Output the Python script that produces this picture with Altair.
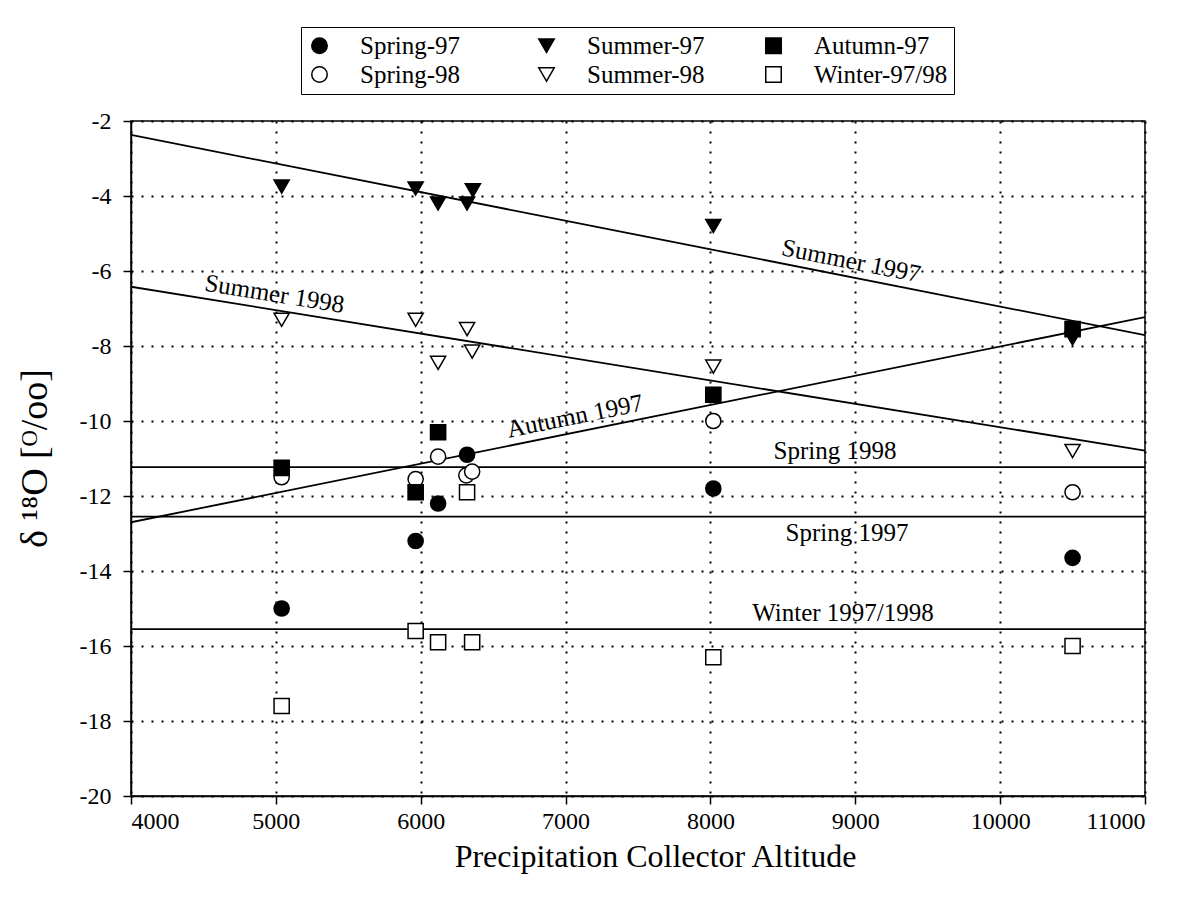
import altair as alt
import pandas as pd

# ---------------- data ----------------
# legend order is column-major in Vega: col1 = Spring, col2 = Summer, col3 = Autumn/Winter
series_order = ["Spring-97", "Spring-98", "Summer-97", "Summer-98", "Autumn-97", "Winter-97/98"]
series_shapes = ["circle", "circle", "triangle-down", "triangle-down", "square", "square"]
series_fills = ["black", "white", "black", "white", "black", "white"]
series_strokes = ["black", "black", "black", "black", "black", "black"]

spring97_x = [5040, 5965, 6120, 6320, 8020, 10500]
spring97_y = [-15.0, -13.2, -12.2, -10.9, -11.8, -13.65]

spring98_x = [5040, 5965, 6120, 6315, 6355, 8020, 10500]
spring98_y = [-11.5, -11.55, -10.95, -11.45, -11.35, -10.0, -11.9]

summer97_x = [5040, 5965, 6120, 6320, 6360, 8020, 10500]
summer97_y = [-3.75, -3.8, -4.2, -4.2, -3.85, -4.8, -7.8]

summer98_x = [5040, 5965, 6120, 6320, 6355, 8020, 10500]
summer98_y = [-7.3, -7.3, -8.45, -7.55, -8.15, -8.55, -10.8]

autumn97_x = [5040, 5965, 6120, 8020, 10500]
autumn97_y = [-11.25, -11.9, -10.3, -9.3, -7.55]

winter_x = [5040, 5965, 6120, 6320, 6355, 8020, 10500]
winter_y = [-17.6, -15.6, -15.9, -11.9, -15.9, -16.3, -16.0]

line_names = ["Summer 1997", "Summer 1998", "Autumn 1997", "Spring 1998", "Spring 1997", "Winter 1997/1998"]
line_x0 = [4000, 4000, 4000, 4000, 4000, 4000]
line_y0 = [-2.37, -6.42, -12.70, -11.23, -12.55, -15.55]
line_x1 = [11000, 11000, 11000, 11000, 11000, 11000]
line_y1 = [-7.71, -10.79, -7.23, -11.23, -12.55, -15.55]

label_x = [8950, 4973, 7086, 8860, 8943, 8915]
label_y = [-6.15, -7.03, -10.29, -11.23, -12.55, -15.55]
label_angle = [11.2, 9.2, 348.6, 0, 0, 0]
label_side = ["above", "above", "above", "above", "below", "above"]

x_ticks = [4000, 5000, 6000, 7000, 8000, 9000, 10000, 11000]
y_ticks = [-20, -18, -16, -14, -12, -10, -8, -6, -4, -2]

# ---------------- tables ----------------
rows = []
for name, xs, ys in [
    ("Spring-98", spring98_x, spring98_y),
    ("Summer-98", summer98_x, summer98_y),
    ("Winter-97/98", winter_x, winter_y),
    ("Spring-97", spring97_x, spring97_y),
    ("Summer-97", summer97_x, summer97_y),
    ("Autumn-97", autumn97_x, autumn97_y),
]:
    for xv, yv in zip(xs, ys):
        rows.append({"series": name, "alt": xv, "d18o": yv})
points = pd.DataFrame(rows)

lrows = []
for n, a0, b0, a1, b1 in zip(line_names, line_x0, line_y0, line_x1, line_y1):
    lrows.append({"line": n, "alt": a0, "d18o": b0})
    lrows.append({"line": n, "alt": a1, "d18o": b1})
lines = pd.DataFrame(lrows)

labels = pd.DataFrame({"text": line_names, "alt": label_x, "d18o": label_y,
                       "angle": label_angle, "side": label_side})

FONT = "Liberation Serif"

xscale = alt.Scale(domain=[4000, 11000], nice=False, zero=False)
yscale = alt.Scale(domain=[-20, -2], nice=False, zero=False)

xenc = alt.X("alt:Q", scale=xscale,
             axis=alt.Axis(values=x_ticks, format="d", title="Precipitation Collector Altitude",
                           titleY=60, titleX=524, titleBaseline="middle", labelPadding=5))
yenc = alt.Y("d18o:Q", scale=yscale,
             axis=alt.Axis(values=y_ticks, labelExpr="datum.value + ''",
                           title="δ ¹⁸O [ᴼ/oo]", titleAngle=270, titleX=-96, titleY=337,
                           titleAlign="center", titleBaseline="middle", titleFontSize=38,
                           labelPadding=12))

line_layer = alt.Chart(lines).mark_line(color="black", strokeWidth=1.8, clip=True).encode(
    x=xenc, y=yenc, detail="line:N")

above = alt.Chart(labels).transform_filter(alt.datum.side == "above").mark_text(
    font=FONT, fontSize=25, baseline="bottom", align="center", dy=-3, color="black"
).encode(x="alt:Q", y="d18o:Q", text="text:N", angle=alt.Angle("angle:Q", scale=None))

below = alt.Chart(labels).transform_filter(alt.datum.side == "below").mark_text(
    font=FONT, fontSize=25, baseline="top", align="center", dy=4, color="black"
).encode(x="alt:Q", y="d18o:Q", text="text:N", angle=alt.Angle("angle:Q", scale=None))

legend = alt.Legend(title=None, orient="none", legendX=170, legendY=-94, columns=3,
                    columnPadding=40, rowPadding=3, gridAlign="all", padding=6,
                    labelOffset=28, symbolSize=240, strokeColor="black", fillColor="white",
                    symbolStrokeColor="black", symbolStrokeWidth=1.5,
                    labelFont=FONT, labelFontSize=25, labelColor="black", labelLimit=300)

point_layer = alt.Chart(points).mark_point(
    filled=True, size=230, stroke="black", strokeWidth=1.5, opacity=1
).encode(
    x="alt:Q", y="d18o:Q",
    shape=alt.Shape("series:N", scale=alt.Scale(domain=series_order, range=series_shapes), legend=legend),
    fill=alt.Fill("series:N", scale=alt.Scale(domain=series_order, range=series_fills), legend=legend),
    stroke=alt.Stroke("series:N", scale=alt.Scale(domain=series_order, range=series_strokes), legend=legend),
)

chart = alt.layer(line_layer, above, below, point_layer).properties(
    width=1014, height=675,
    padding={"left": 123, "top": 113, "right": 20, "bottom": 100},
    autosize=alt.AutoSizeParams(type="none"),
).configure_view(
    stroke="black", strokeWidth=1.5
).configure_axis(
    labelFont=FONT, titleFont=FONT, labelFontSize=24, titleFontSize=32,
    titleFontWeight="normal", labelColor="black", titleColor="black",
    domainColor="black", domainWidth=1.5, tickColor="black", tickWidth=1.5, tickSize=8,
    grid=True, gridColor="black", gridDash=[2, 8], gridWidth=2, gridOpacity=1,
).configure_text(font=FONT)

chart.save("out.html", embed_options={"renderer": "svg", "actions": False})
